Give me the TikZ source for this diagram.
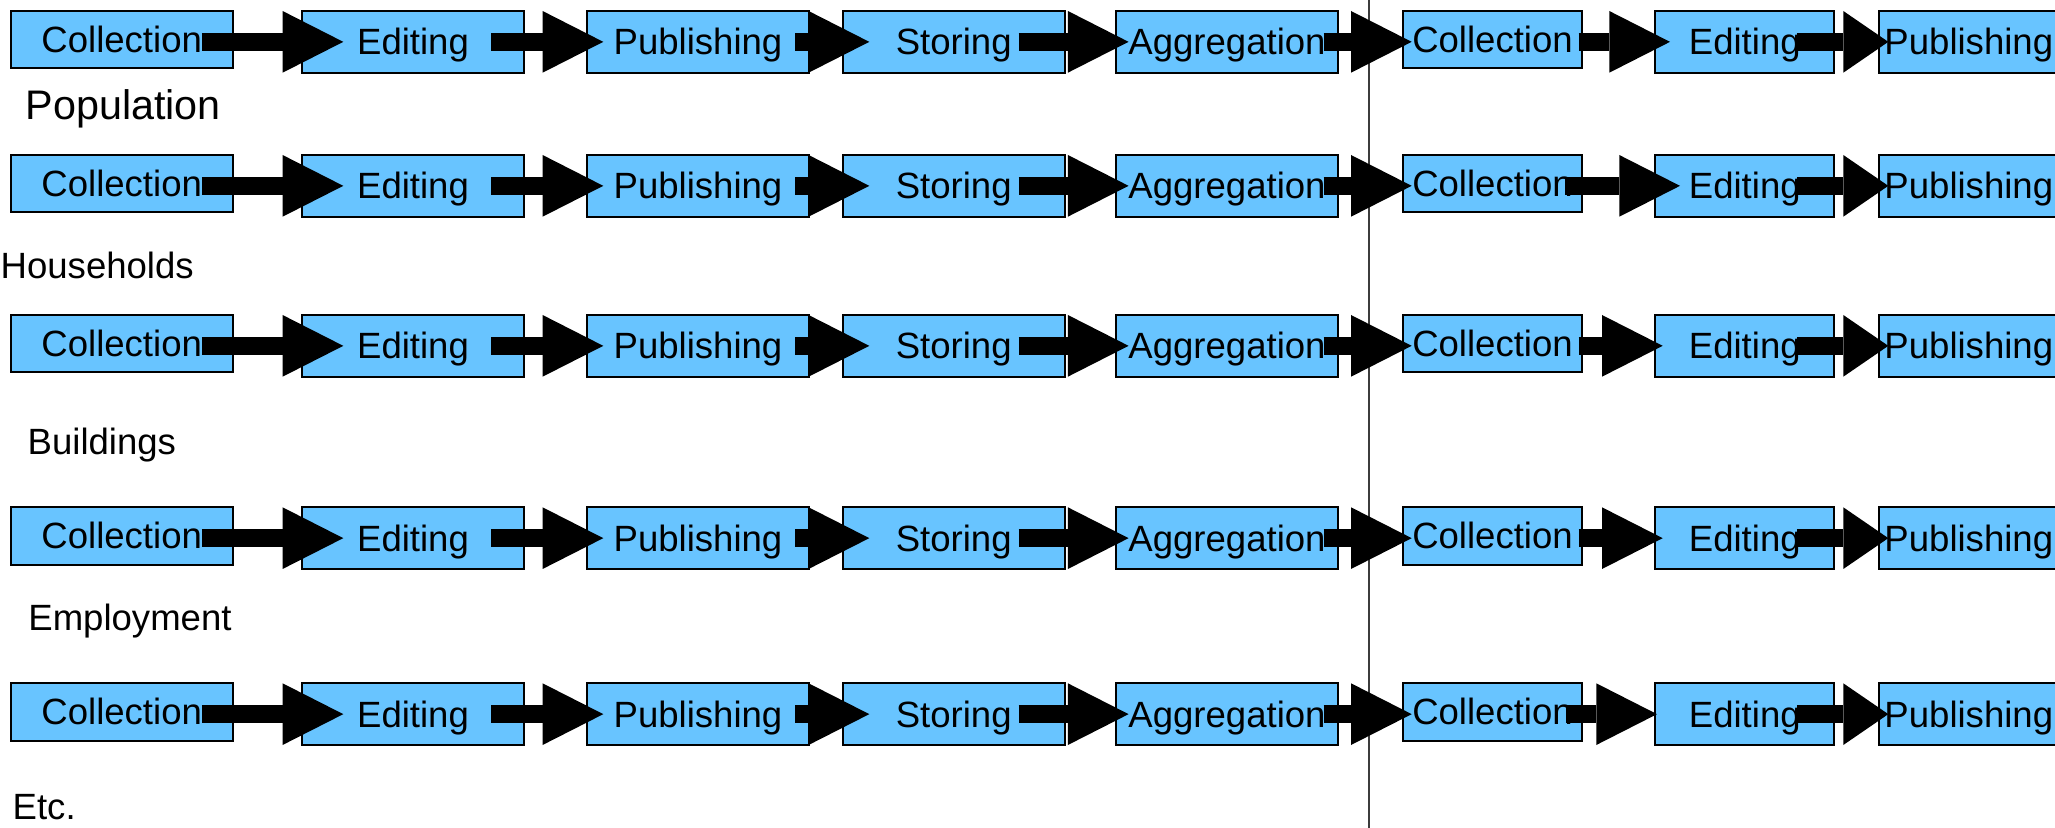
\documentclass[tikz,border=0pt]{standalone}
\usepackage{fontspec}
\setmainfont{Liberation Sans}
\definecolor{stageblue}{RGB}{104,196,255}
\definecolor{dividergray}{RGB}{60,60,60}
\usetikzlibrary{arrows.meta}

\begin{document}
\begin{tikzpicture}[x=0.1mm, y=-0.1mm,
    stage/.style={draw=black, line width=0.2mm, fill=stageblue, anchor=north west,
      inner sep=0pt, minimum width=22.2mm, minimum height=6.23mm,
      text height=2.6mm, text depth=0pt, font=\fontsize{10.4pt}{12pt}\selectfont},
    short/.style={minimum height=5.76mm},
    narrow/.style={minimum width=17.9mm},
    flow/.style={line width=1.83mm, -{Triangle[length=#1, width=6.17mm, line width=0pt]}},
    flow/.default=6.07mm,
    theme/.style={anchor=base west, inner sep=0pt, font=\fontsize{10.4pt}{12pt}\selectfont}]
  \useasboundingbox (0,0) rectangle (2055,828);
  \draw[dividergray, line width=0.17mm] (1369.3,0) -- (1369.3,828);

  \foreach \r/\top/\cs/\ct in {1/8.7/-0.43/1.57, 2/152.7/-1.77/2.57, 3/312.7/-0.43/0.84,
                               4/505/-0.43/0.84, 5/681/-1.7/0.27} {
    \node[stage, short]         (col\r)  at (9.7,\top+1)    {Collection};
    \node[stage]                (edi\r)  at (301,\top+1)    {Editing};
    \node[stage]                (pub\r)  at (586,\top+1)    {Publishing};
    \node[stage]                (sto\r)  at (841.7,\top+1)  {Storing};
    \node[stage]                (agg\r)  at (1115,\top+1)   {Aggregation};
    \node[stage, short, narrow] (colb\r) at (1402,\top+1)   {Collection};
    \node[stage, narrow]        (edib\r) at (1654.3,\top+1) {Editing};
    \node[stage, narrow]        (pubb\r) at (1878.3,\top+1) {Publishing};
    \draw[flow] ([xshift=-3.17mm]col\r.east |- edi\r.west) -- ([xshift=4.23mm]edi\r.west);
    \draw[flow] ([xshift=-3.39mm]edi\r.east) -- ([xshift=1.73mm]pub\r.west);
    \draw[flow] ([xshift=-1.49mm]pub\r.east) -- ([xshift=2.76mm]sto\r.west);
    \draw[flow] ([xshift=-4.7mm]sto\r.east) -- ([xshift=1.36mm]agg\r.west);
    \draw[flow] ([xshift=-1.55mm]agg\r.east) -- ([xshift=0.97mm]colb\r.west |- agg\r.east);
    \draw[flow] ([xshift=\cs mm]colb\r.east |- edib\r.west) -- ([xshift=\ct mm]edib\r.west);
    \draw[flow=4.5mm] ([xshift=-3.85mm]edib\r.east) -- ([xshift=1mm]pubb\r.west);
  }

  \node[theme, font=\fontsize{11.75pt}{14pt}\selectfont] (population) at (25,119.3) {Population};
  \node[theme] (households) at (0,279) {Households};
  \node[theme] (buildings) at (27,455) {Buildings};
  \node[theme] (employment) at (27.7,630.7) {Employment};
  \node[theme] (etc) at (12,820) {Etc.};
\end{tikzpicture}
\end{document}
